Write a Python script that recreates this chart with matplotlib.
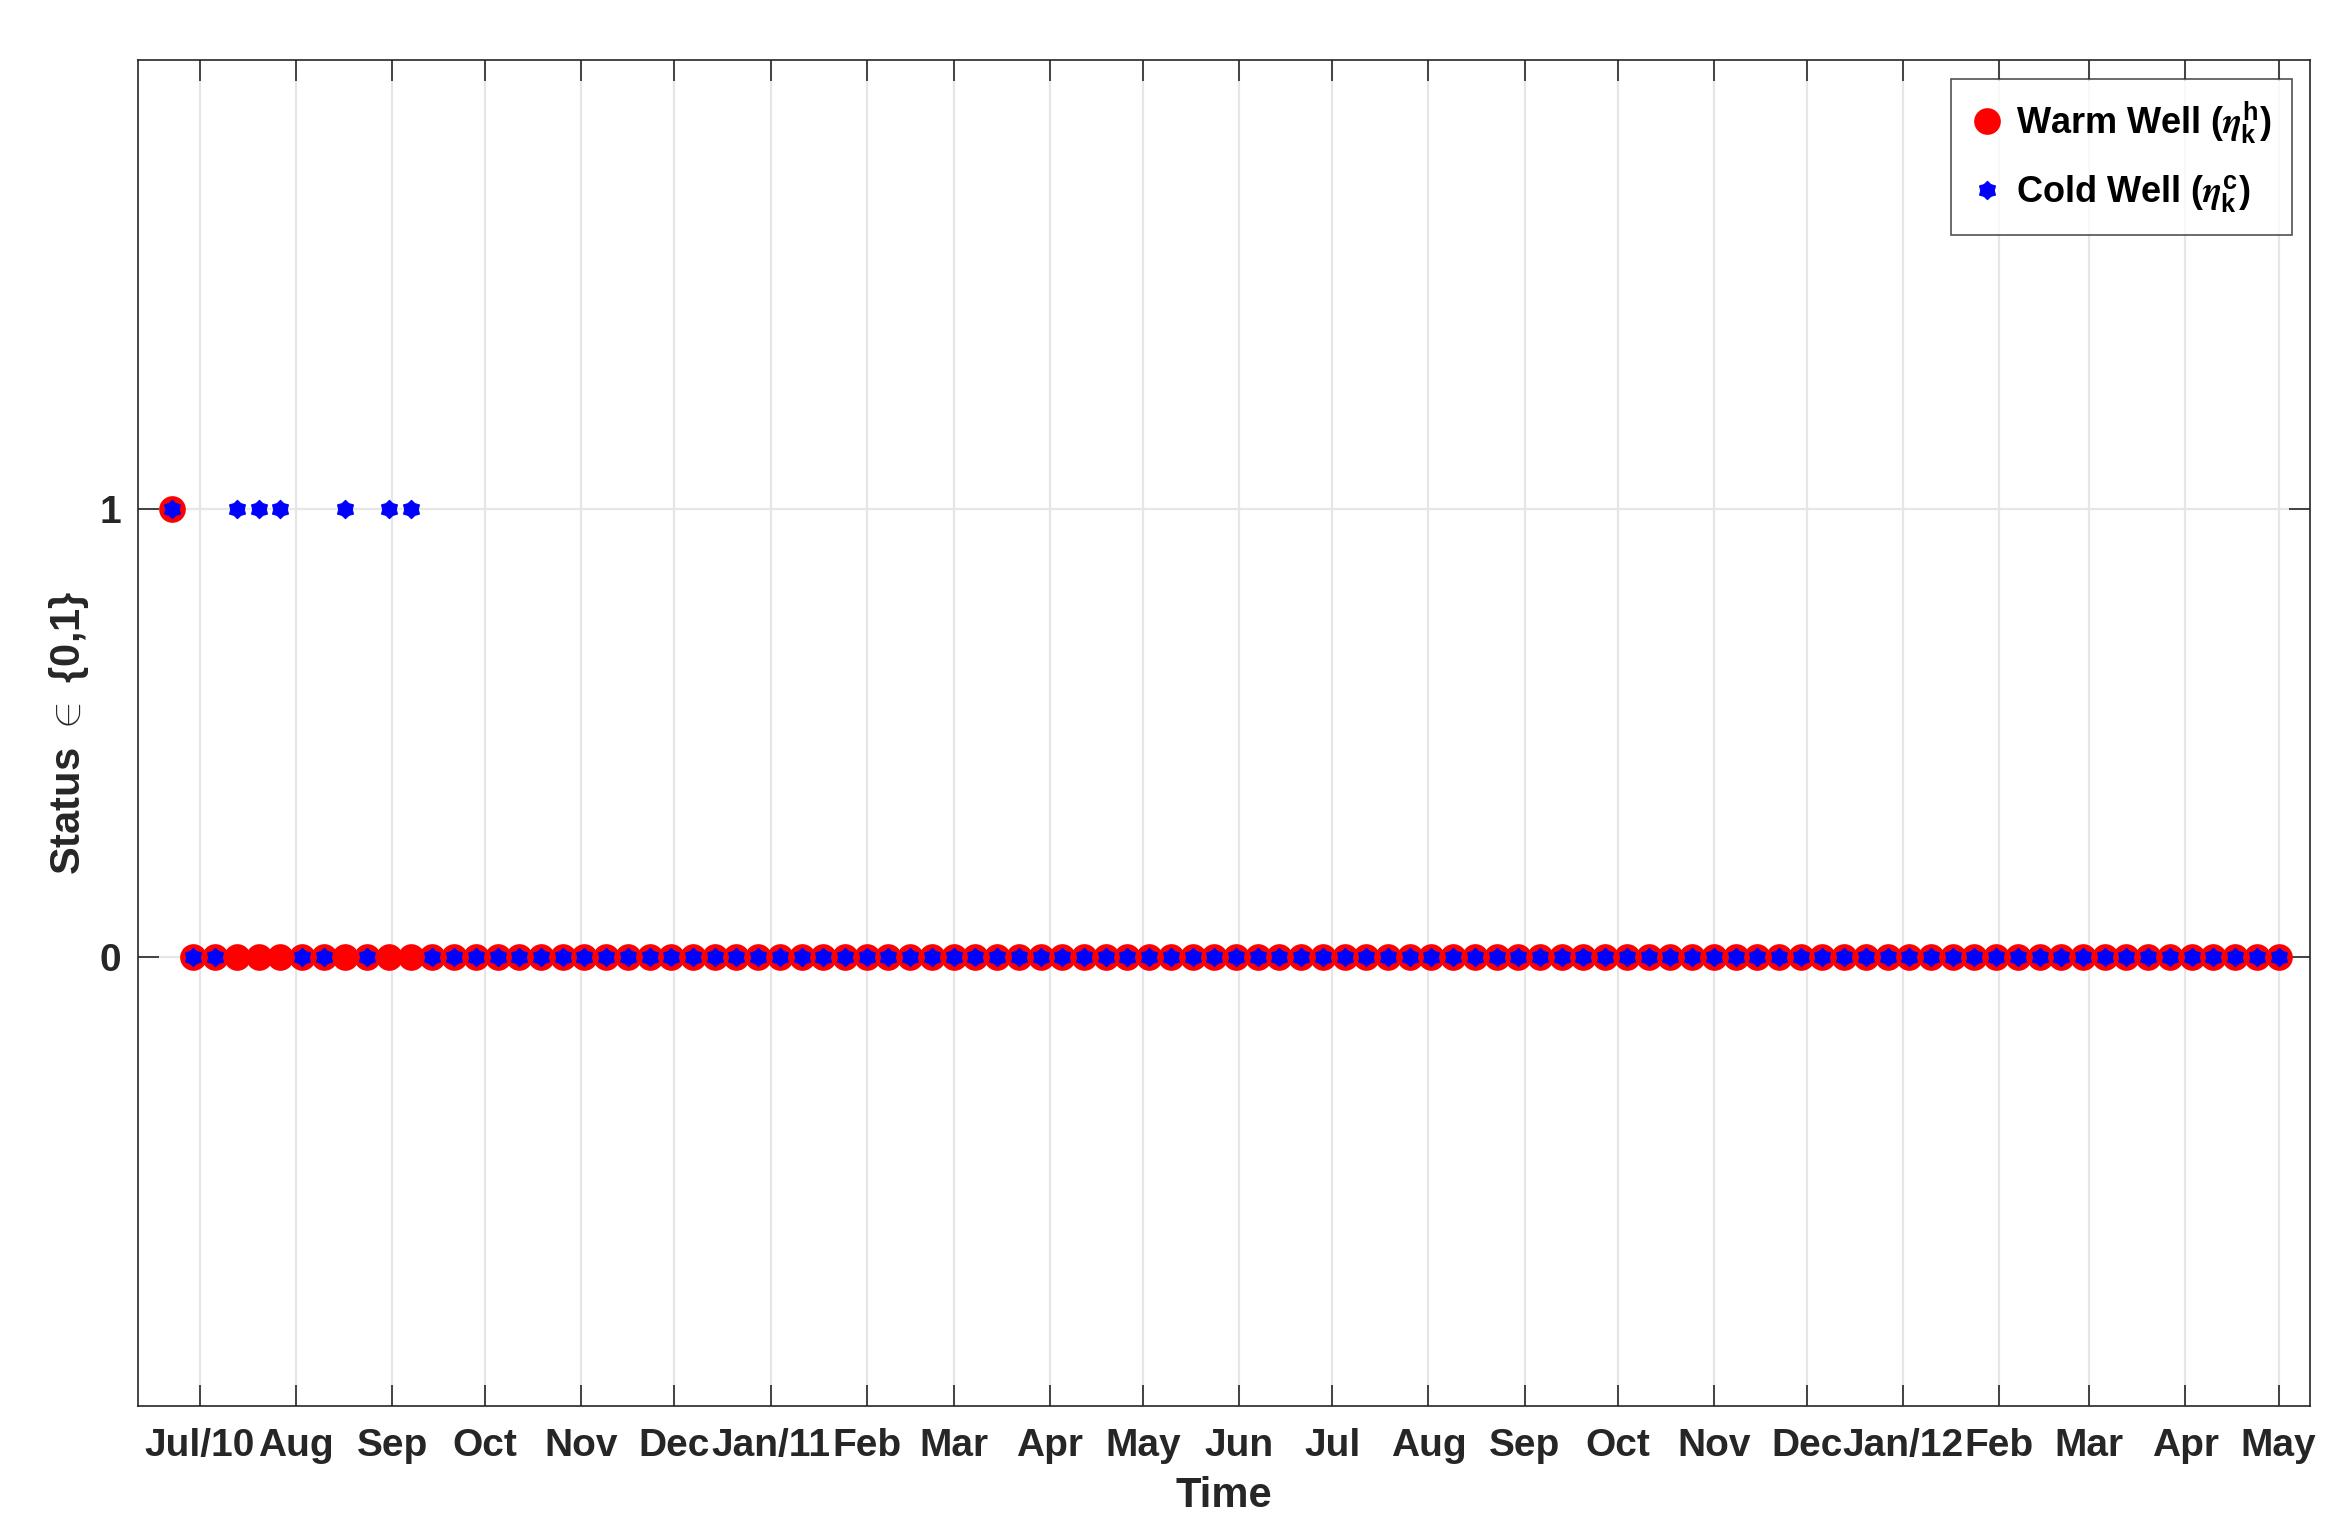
import numpy as np
import pandas as pd
import matplotlib
matplotlib.use('Agg')
import matplotlib.pyplot as plt
from matplotlib.path import Path

plt.rcParams['font.family'] = ['Liberation Sans', 'DejaVu Sans']
plt.rcParams['font.weight'] = 'bold'
plt.rcParams['axes.labelweight'] = 'bold'
plt.rcParams['mathtext.fontset'] = 'cm'
# used by the legend labels only
plt.rcParams['mathtext.bf'] = 'Liberation Sans:bold'
plt.rcParams['mathtext.rm'] = 'Liberation Sans:bold'
plt.rcParams['mathtext.it'] = 'STIXGeneral:italic'

# weekly samples, Jun 2010 - May 2012
dates = pd.date_range('2010-06-22', periods=98, freq='7D')

# weeks where each well is on (status 1), else 0
warm_on = [0]
cold_on = [0, 3, 4, 5, 8, 10, 11]

warm = np.zeros(len(dates))
warm[warm_on] = 1
cold = np.zeros(len(dates))
cold[cold_on] = 1

tick_dates = pd.date_range('2010-07-01', '2012-05-01', freq='MS')
tick_labels = ['Jul/10', 'Aug', 'Sep', 'Oct', 'Nov', 'Dec', 'Jan/11', 'Feb', 'Mar',
               'Apr', 'May', 'Jun', 'Jul', 'Aug', 'Sep', 'Oct', 'Nov', 'Dec',
               'Jan/12', 'Feb', 'Mar', 'Apr', 'May']

dark = '#262626'

# matlab-ish fat hexagram
ang = np.pi / 2 + np.arange(12) * np.pi / 6
rad = np.where(np.arange(12) % 2 == 0, 1.0, 0.74)
hexagram = Path(np.column_stack([rad * np.cos(ang), rad * np.sin(ang)]).tolist() + [[0, 1]],
                closed=True)

fig = plt.figure(figsize=(11.72, 7.585), dpi=200)
ax = fig.add_axes([0.0587, 0.073, 0.9266, 0.8876])

ax.plot(dates, warm, 'o', color='red', mfc='red', mec='red', ms=8.6, mew=1,
        label=r'Warm Well ($\eta_{\mathbf{k}}^{\mathbf{h}}$)')
ax.plot(dates, cold, marker=hexagram, ls='none', color='blue', mfc='blue', mec='blue',
        ms=6.6, mew=0.4, label=r'Cold Well ($\eta_{\mathbf{k}}^{\mathbf{c}}$)')

ax.set_xlim(pd.Timestamp('2010-06-11'), pd.Timestamp('2012-05-11'))
ax.set_ylim(-1, 2)
ax.set_yticks([0, 1])
ax.set_yticklabels(['0', '1'])
ax.set_xticks(tick_dates)
ax.set_xticklabels(tick_labels)

ax.grid(True, color='#e6e6e6', lw=0.8)
ax.set_axisbelow(True)
ax.tick_params(direction='in', length=7.5, width=0.6, colors=dark, labelsize=14,
               top=True, right=True, pad=8)
ax.tick_params(axis='y', pad=6)
for s in ax.spines.values():
    s.set_color(dark)
    s.set_linewidth(0.6)

ax.set_xlabel('Time', fontsize=15, color=dark, labelpad=4)
ax.set_ylabel(r'Status $\in$ {0,1}', fontsize=15, color=dark, labelpad=3)

leg = ax.legend(loc='upper right', fontsize=13, frameon=True, fancybox=False,
                edgecolor=dark, borderpad=0.55, handletextpad=0.35, handlelength=0.9,
                labelspacing=0.75, borderaxespad=0, bbox_to_anchor=(0.9917, 0.9856))
leg.get_frame().set_linewidth(0.6)
for t in leg.get_texts():
    t.set_math_fontfamily('custom')

fig.savefig('out.png', dpi=200, facecolor='white')
